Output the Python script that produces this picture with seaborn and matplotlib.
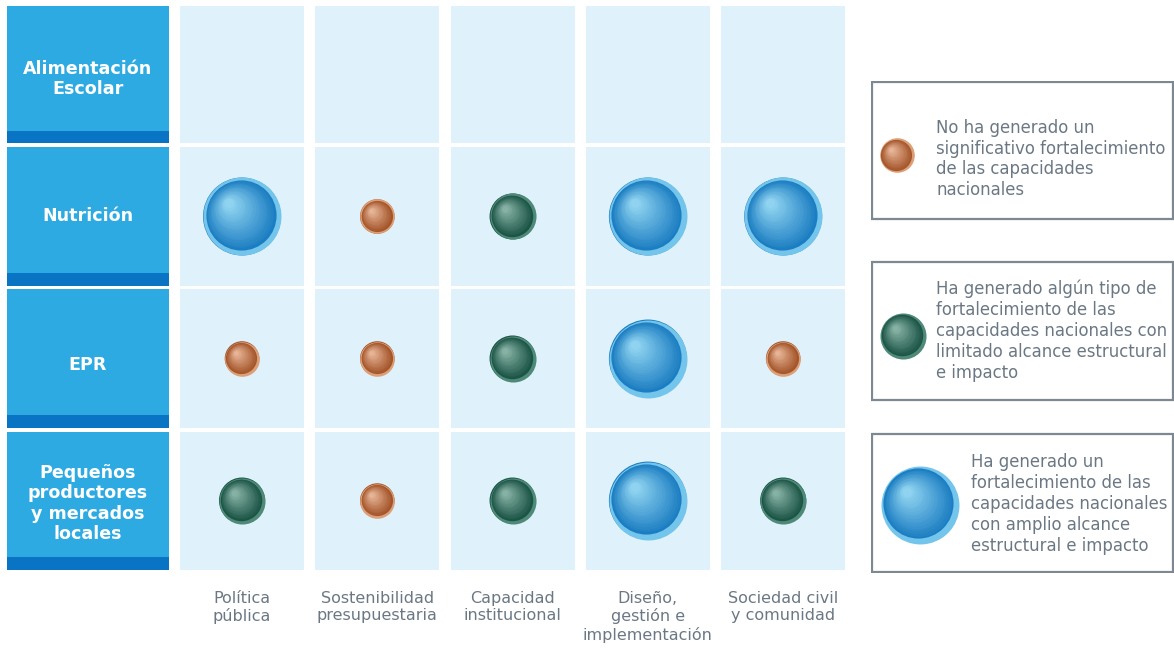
import numpy as np
import pandas as pd
import matplotlib
matplotlib.use("Agg")
import matplotlib.pyplot as plt
import matplotlib.patches as mpatches
import matplotlib.colors as mcolors
import seaborn as sns

# data
rows = ["Alimentación\nEscolar", "Nutrición", "EPR",
        "Pequeños\nproductores\ny mercados\nlocales"]
cols = ["Política\npública", "Sostenibilidad\npresupuestaria", "Capacidad\ninstitucional",
        "Diseño,\ngestión e\nimplementación", "Sociedad civil\ny comunidad"]
# 1 = no significativo, 2 = algún tipo, 3 = amplio alcance ; None = sin dato
nivel_alimentacion = [None, None, None, None, None]
nivel_nutricion = [3, 1, 2, 3, 3]
nivel_epr = [1, 1, 2, 3, 1]
nivel_pequenos = [2, 1, 2, 3, 2]
legend_texts = [
    "No ha generado un\nsignificativo fortalecimiento\nde las capacidades\nnacionales",
    "Ha generado algún tipo de\nfortalecimiento de las\ncapacidades nacionales con\nlimitado alcance estructural\ne impacto",
    "Ha generado un\nfortalecimiento de las\ncapacidades nacionales\ncon amplio alcance\nestructural e impacto",
]

records = []
for r, vals in enumerate([nivel_alimentacion, nivel_nutricion, nivel_epr, nivel_pequenos]):
    for c, v in enumerate(vals):
        if v is not None:
            records.append({"fila": r, "col": c, "nivel": v})
df = pd.DataFrame(records)

# styles
dark = {1: "#a4552a", 2: "#1c5546", 3: "#1c7ec2"}
light = {1: "#e6b496", 2: "#86b2a5", 3: "#8fd3f0"}
rim = {1: "#dc9f78", 2: "#4f8a78", 3: "#74c5ec"}
sizes = {1: 620, 2: 1100, 3: 3150}
header_blue = "#2eaae2"
stripe_blue = "#0a74c4"
cell_blue = "#dff1fa"
gray_text = "#6b7884"

sns.set_style("white")
plt.rcParams["font.family"] = ["DejaVu Sans"]

fig = plt.figure(figsize=(11.74, 6.5), dpi=100)
W, H = 1174, 650
ax = fig.add_axes([7 / W, 1 - 570 / H, (845 - 7) / W, (570 - 6) / H])

cw, ch = 0.917, 0.972
stripe = 0.087
hx0, hx1 = -1.737, -0.540
label_shift = [0.03, 0.0, 0.045, 0.02]
for r, name in enumerate(rows):
    ax.add_patch(mpatches.Rectangle((hx0, r - ch / 2), hx1 - hx0, ch,
                                    facecolor=header_blue, edgecolor="none", zorder=1))
    ax.add_patch(mpatches.Rectangle((hx0, r + ch / 2 - stripe), hx1 - hx0, stripe,
                                    facecolor=stripe_blue, edgecolor="none", zorder=2))
    ax.text((hx0 + hx1) / 2, r + label_shift[r], name, color="white",
            fontsize=12.6, fontweight="bold", ha="center", va="center",
            linespacing=1.17, zorder=3)
    for c in range(len(cols)):
        ax.add_patch(mpatches.Rectangle((c - cw / 2, r - ch / 2), cw, ch,
                                        facecolor=cell_blue, edgecolor="none", zorder=1))

for c, name in enumerate(cols):
    ax.text(c, 3.635, name, color=gray_text, fontsize=11.5, ha="center", va="top",
            linespacing=1.2)


def spheres(axis, x, y, lv, z=5):
    s = sizes[lv]
    axis.scatter(x, y, s=s, color=rim[lv], linewidths=0, zorder=z)
    n = 18
    c0 = np.array(mcolors.to_rgb(dark[lv]))
    c1 = np.array(mcolors.to_rgb(light[lv]))
    d = np.sqrt(s)
    for k in range(n):
        t = k / (n - 1)
        frac = 0.9 * (1 - t) + 0.12 * t
        col = c0 * (1 - t) + c1 * t
        off = (1 - frac) * d * 0.5 * 0.55
        tr = matplotlib.transforms.offset_copy(axis.transData, fig=fig,
                                               x=-off * 0.7, y=off * 0.7, units="points")
        axis.scatter(x, y, s=s * frac ** 2, color=col, linewidths=0,
                     zorder=z + 1 + k * 0.01, transform=tr)


sns.scatterplot(data=df, x="col", y="fila", hue="nivel", size="nivel",
                palette=dark, sizes=sizes, linewidth=0, legend=False, ax=ax, zorder=4)
for _, rr in df.iterrows():
    spheres(ax, rr["col"], rr["fila"], int(rr["nivel"]))
ax.set_xlim(-1.737, 4.457)
ax.set_ylim(3.489, -0.482)
ax.axis("off")

# legend panel
lax = fig.add_axes([871 / W, 1 - 573 / H, 303 / W, (573 - 81) / H])
lax.set_xlim(871, 1174)
lax.set_ylim(573, 81)
lax.axis("off")
boxes = [(82, 219), (262, 400), (434, 572)]
circ_x = [897, 903, 920]
circ_dy = [5, 5, 2]
text_x = [936, 936, 971]
text_dy = [8.5, 0, 1]
for i, ((y0, y1), txt) in enumerate(zip(boxes, legend_texts)):
    lax.add_patch(mpatches.Rectangle((872, y0), 300.5, y1 - y0, facecolor="white",
                                     edgecolor="#7d8891", lw=1.6, zorder=1))
    ym = (y0 + y1) / 2
    spheres(lax, circ_x[i], ym + circ_dy[i], i + 1)
    lax.text(text_x[i], ym + text_dy[i], txt, color=gray_text, fontsize=11.9,
             ha="left", va="center", linespacing=1.21)

fig.savefig("out.png", dpi=100)
